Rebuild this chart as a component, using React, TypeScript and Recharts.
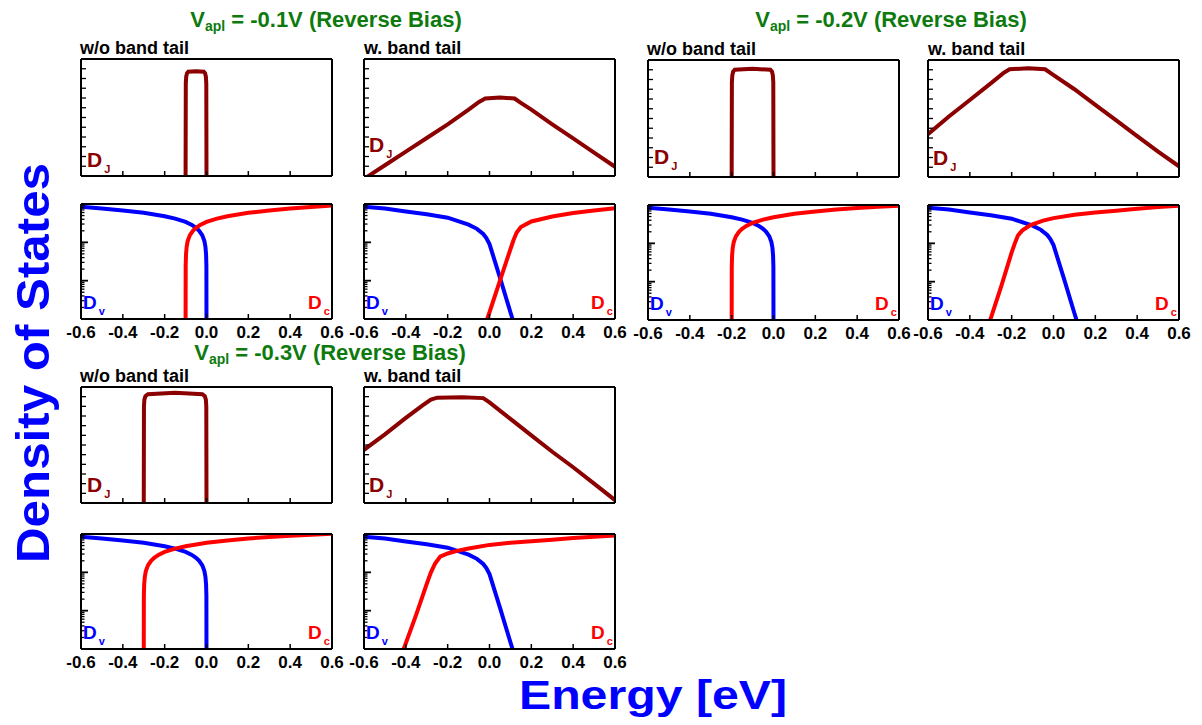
import React from "react";
import { LineChart, Line, XAxis, YAxis } from "recharts";

type Pt = [number, number];

const FONT = '"Liberation Sans", Arial, Helvetica, sans-serif';
const DJ_COLOR = "#8B0000";
const DV_COLOR = "#0000FF";
const DC_COLOR = "#FF0000";
const TITLE_GREEN = "#0E7A0E";

// x axis (energy, eV)
const energyTicks = [-0.6, -0.4, -0.2, 0, 0.2, 0.4, 0.6];
const energyLabels = ["-0.6", "-0.4", "-0.2", "0.0", "0.2", "0.4", "0.6"];
// joint DOS panels: linear, unlabelled ticks
const djTicks = [0, 10, 20, 30, 40, 50, 60, 70, 80, 90, 100, 110];
// band DOS panels: log, three decades
const dosTicks = [
  1, 2, 3, 4, 5, 6, 7, 8, 9, 10, 20, 30, 40, 50, 60, 70, 80, 90, 100, 200,
  300, 400, 500, 600, 700, 800, 900, 1000,
];
const dosDecades = [1, 10, 100, 1000];

const biasValues = ["-0.1V", "-0.2V", "-0.3V"];

// ---- joint density of states D_J (top panels) ----
const djPlain1: Pt[] = [
  [-0.1, -2], [-0.099, 95], [-0.097, 102], [-0.093, 105.5], [-0.087, 107],
  [-0.05, 107.5], [-0.013, 107], [-0.007, 105.5], [-0.003, 102], [-0.001, 95], [0, -2],
];
const djTail1: Pt[] = [
  [-0.6, -3], [-0.5, 11], [-0.4, 25], [-0.3, 39], [-0.2, 53], [-0.1, 68],
  [-0.05, 76], [-0.02, 79.5], [0.05, 80.5], [0.12, 79.5], [0.15, 75], [0.2, 68],
  [0.3, 53], [0.4, 38.5], [0.5, 24], [0.6, 9.5],
];
const djPlain2: Pt[] = [
  [-0.2, -2], [-0.199, 97], [-0.197, 104], [-0.193, 108], [-0.185, 110],
  [-0.1, 111], [-0.015, 110], [-0.007, 108], [-0.003, 104], [-0.001, 97], [0, -2],
];
const djTail2: Pt[] = [
  [-0.6, 44], [-0.5, 62], [-0.4, 79], [-0.3, 96], [-0.24, 106.5], [-0.21, 110.5],
  [-0.12, 111.5], [-0.04, 110.5], [-0.01, 106], [0.1, 90], [0.2, 74], [0.3, 58],
  [0.4, 42], [0.5, 26], [0.6, 11],
];
const djPlain3: Pt[] = [
  [-0.3, -2], [-0.299, 100], [-0.297, 107], [-0.292, 110.5], [-0.28, 112.5],
  [-0.15, 114], [-0.02, 112.5], [-0.008, 110.5], [-0.003, 107], [-0.001, 100], [0, -2],
];
const djTail3: Pt[] = [
  [-0.6, 55], [-0.5, 71], [-0.4, 88], [-0.32, 101], [-0.28, 107], [-0.25, 109],
  [-0.13, 109.5], [-0.03, 108.5], [0, 104], [0.1, 87], [0.2, 70], [0.3, 53],
  [0.4, 37], [0.5, 20], [0.6, 3],
];

// ---- valence band D_V (same in all bias cases) ----
const dvPlain: Pt[] = [
  [-0.6, 850], [-0.5, 765], [-0.4, 680], [-0.3, 590], [-0.2, 480], [-0.15, 415],
  [-0.1, 340], [-0.07, 285], [-0.05, 240], [-0.035, 200], [-0.02, 152], [-0.01, 108],
  [-0.005, 76], [-0.002, 48], [-0.0005, 24], [0, 0.5],
];
const dvTail: Pt[] = [
  [-0.6, 850], [-0.5, 760], [-0.4, 640], [-0.3, 540], [-0.2, 440], [-0.1, 290],
  [-0.06, 225], [-0.03, 165], [-0.015, 130], [0, 90], [0.05, 12], [0.1, 1.5], [0.14, 0.3],
];

// ---- conduction band D_C ----
const dcPlain1: Pt[] = [
  [-0.1, 0.5], [-0.0995, 24], [-0.098, 48], [-0.095, 76], [-0.09, 108], [-0.08, 152],
  [-0.065, 200], [-0.05, 240], [-0.03, 285], [0, 340], [0.05, 415], [0.1, 480],
  [0.2, 590], [0.3, 680], [0.4, 765], [0.5, 835], [0.6, 920],
];
const dcTail1: Pt[] = [
  [-0.03, 0.5], [0, 1.5], [0.05, 10], [0.1, 66], [0.115, 115], [0.13, 180],
  [0.15, 250], [0.2, 350], [0.3, 470], [0.4, 580], [0.5, 680], [0.6, 780],
];
const dcPlain2: Pt[] = [
  [-0.2, 0.5], [-0.1995, 24], [-0.198, 48], [-0.195, 76], [-0.19, 108], [-0.18, 152],
  [-0.165, 200], [-0.15, 240], [-0.13, 285], [-0.1, 340], [-0.05, 415], [0, 480],
  [0.1, 590], [0.2, 680], [0.3, 765], [0.4, 835], [0.5, 900], [0.6, 960],
];
const dcTail2: Pt[] = [
  [-0.33, 0.35], [-0.3, 1.1], [-0.25, 7.5], [-0.2, 58], [-0.185, 100], [-0.17, 160],
  [-0.15, 215], [-0.11, 300], [-0.05, 390], [0, 455], [0.1, 560], [0.2, 640],
  [0.3, 710], [0.4, 800], [0.5, 880], [0.6, 950],
];
const dcPlain3: Pt[] = [
  [-0.3, 0.5], [-0.2995, 24], [-0.298, 48], [-0.295, 76], [-0.29, 108], [-0.28, 152],
  [-0.265, 200], [-0.25, 240], [-0.23, 285], [-0.2, 340], [-0.15, 415], [-0.1, 480],
  [0, 590], [0.1, 680], [0.2, 765], [0.3, 835], [0.4, 900], [0.5, 960], [0.6, 1010],
];
const dcTail3: Pt[] = [
  [-0.44, 0.35], [-0.41, 1], [-0.35, 8], [-0.3, 50], [-0.28, 100], [-0.26, 170],
  [-0.236, 257], [-0.2, 310], [-0.156, 363], [-0.1, 420], [0, 520], [0.1, 590],
  [0.2, 650], [0.3, 710], [0.4, 790], [0.5, 850], [0.6, 920],
];

const toRows = (pts: Pt[]) => pts.map(([e, v]) => ({ e, v }));
const fmtEnergy = (v: number) => {
  const i = energyTicks.findIndex((t) => Math.abs(t - v) < 1e-9);
  return i >= 0 ? energyLabels[i] : String(v);
};

const frame = { stroke: "#000", strokeWidth: 2 };
const X_TICK_GAP = 8;

// inward tick mark on the bottom axis, with the label below it
function EnergyTick(props: any) {
  const { x, y, payload, labelled } = props;
  const axisY = y - X_TICK_GAP;
  return (
    <g>
      <line x1={x} x2={x} y1={axisY} y2={axisY - 5} stroke="#000" strokeWidth={1.5} />
      {labelled && (
        <text x={x} y={axisY + 19} textAnchor="middle" fill="#000" fontFamily={FONT} fontWeight={700} fontSize={17}>
          {fmtEnergy(payload.value)}
        </text>
      )}
    </g>
  );
}

// inward tick mark on the left axis
function SideTick(props: any) {
  const { x, y, payload, kind } = props;
  const major = kind === "dos" && dosDecades.includes(payload.value);
  const len = kind === "dos" ? (major ? 7 : 3.5) : 5;
  return <line x1={x} x2={x + len} y1={y} y2={y} stroke="#000" strokeWidth={major ? 1.8 : 1.3} />;
}

type Series = { data: Pt[]; color: string };

function Panel(props: {
  x: number; y: number; w: number; h: number;
  kind: "dj" | "dos"; labelled: boolean; series: Series[];
}) {
  const { x, y, w, h, kind, labelled, series } = props;
  const padX = 17;
  const padTop = 1;
  const axisH = labelled ? 26 : 1;
  const isDos = kind === "dos";
  // left/right y axes and top x axis are 1px strips that only carry the frame line
  return (
    <div style={{ position: "absolute", left: x - padX - 1, top: y - padTop - 1 }}>
      <LineChart
        width={w + 2 * padX + 2}
        height={h + padTop + 1 + axisH}
        margin={{ top: padTop, right: padX, bottom: 0, left: padX }}
      >
        <XAxis
          xAxisId="b"
          type="number"
          dataKey="e"
          domain={[-0.6, 0.6]}
          allowDataOverflow
          ticks={energyTicks}
          interval={0}
          height={axisH}
          tickSize={0}
          tickMargin={X_TICK_GAP}
          tick={(p: any) => <EnergyTick {...p} labelled={labelled} />}
          axisLine={frame}
          tickLine={false}
        />
        <XAxis
          xAxisId="t"
          orientation="top"
          type="number"
          domain={[-0.6, 0.6]}
          height={1}
          tick={false}
          tickLine={false}
          axisLine={frame}
        />
        <YAxis
          yAxisId="l"
          width={1}
          type="number"
          scale={isDos ? "log" : "linear"}
          domain={isDos ? [1, 1000] : [0, 120]}
          allowDataOverflow
          ticks={isDos ? dosTicks : djTicks}
          interval={0}
          tickSize={0}
          tickMargin={0}
          tick={(p: any) => <SideTick {...p} kind={kind} />}
          axisLine={frame}
          tickLine={false}
        />
        <YAxis
          yAxisId="r"
          orientation="right"
          width={1}
          type="number"
          domain={[0, 1]}
          tick={false}
          tickLine={false}
          axisLine={frame}
        />
        {series.map((s, i) => (
          <Line
            key={i}
            xAxisId="b"
            yAxisId="l"
            data={toRows(s.data)}
            dataKey="v"
            type="linear"
            stroke={s.color}
            strokeWidth={4}
            dot={false}
            isAnimationActive={false}
          />
        ))}
      </LineChart>
    </div>
  );
}

function Sub(props: {
  x: number; y: number; main: string; sub: string; color: string;
  size: number; subSize: number; dy: number;
}) {
  const { x, y, main, sub, color, size, subSize, dy } = props;
  return (
    <text x={x} y={y} fill={color} fontFamily={FONT} fontWeight={700} fontSize={size}>
      {main}
      <tspan fontSize={subSize} dx={2} dy={dy}>{sub}</tspan>
    </text>
  );
}

type GroupDef = {
  bias: string;
  titleX: number; titleY: number;
  left: number; right: number;
  topY: number; topH: number; botY: number; botH: number;
  djPlain: Pt[]; djTail: Pt[]; dcPlain: Pt[]; dcTail: Pt[];
  djOffL: number; djOffR: number;
};

const W = 251;

const groups: GroupDef[] = [
  { bias: biasValues[0], titleX: 326, titleY: 27, left: 81, right: 364, topY: 59, topH: 117, botY: 204, botH: 115,
    djPlain: djPlain1, djTail: djTail1, dcPlain: dcPlain1, dcTail: dcTail1, djOffL: 9, djOffR: 24 },
  { bias: biasValues[1], titleX: 891, titleY: 27, left: 648, right: 928, topY: 60, topH: 117, botY: 205, botH: 115,
    djPlain: djPlain2, djTail: djTail2, dcPlain: dcPlain2, dcTail: dcTail2, djOffL: 13, djOffR: 12 },
  { bias: biasValues[2], titleX: 330, titleY: 360, left: 81, right: 364, topY: 387, topH: 116, botY: 534, botH: 115,
    djPlain: djPlain3, djTail: djTail3, dcPlain: dcPlain3, dcTail: dcTail3, djOffL: 11, djOffR: 11 },
];

export default function App() {
  return (
    <div style={{ position: "absolute", left: 0, top: 0, width: 1202, height: 725, background: "#fff", fontFamily: FONT }}>
      {groups.map((g, gi) => (
        <React.Fragment key={gi}>
          <Panel x={g.left} y={g.topY} w={W} h={g.topH} kind="dj" labelled={false}
            series={[{ data: g.djPlain, color: DJ_COLOR }]} />
          <Panel x={g.right} y={g.topY} w={W} h={g.topH} kind="dj" labelled={false}
            series={[{ data: g.djTail, color: DJ_COLOR }]} />
          <Panel x={g.left} y={g.botY} w={W} h={g.botH} kind="dos" labelled
            series={[{ data: dvPlain, color: DV_COLOR }, { data: g.dcPlain, color: DC_COLOR }]} />
          <Panel x={g.right} y={g.botY} w={W} h={g.botH} kind="dos" labelled
            series={[{ data: dvTail, color: DV_COLOR }, { data: g.dcTail, color: DC_COLOR }]} />
        </React.Fragment>
      ))}
      <svg width={1202} height={725} style={{ position: "absolute", left: 0, top: 0, pointerEvents: "none" }}>
        {groups.map((g, gi) => {
          const topBottom = g.topY + g.topH;
          const botBottom = g.botY + g.botH;
          return (
            <g key={gi}>
              <text x={g.titleX} y={g.titleY} textAnchor="middle" fill={TITLE_GREEN} fontFamily={FONT} fontWeight={700} fontSize={22}>
                V<tspan fontSize={14} dy={4}>apl</tspan>
                <tspan dy={-4}>{` = ${g.bias} (Reverse Bias)`}</tspan>
              </text>
              <text x={g.left - 1} y={g.topY - 5} fill="#000" fontFamily={FONT} fontWeight={700} fontSize={18}>w/o band tail</text>
              <text x={g.right} y={g.topY - 5} fill="#000" fontFamily={FONT} fontWeight={700} fontSize={18}>w. band tail</text>
              <Sub x={g.left + 6} y={topBottom - g.djOffL} main="D" sub="J" color={DJ_COLOR} size={21} subSize={11} dy={6} />
              <Sub x={g.right + 5} y={topBottom - g.djOffR} main="D" sub="J" color={DJ_COLOR} size={21} subSize={11} dy={6} />
              <Sub x={g.left + 2} y={botBottom - 10} main="D" sub="v" color={DV_COLOR} size={19} subSize={11} dy={6} />
              <Sub x={g.right + 2} y={botBottom - 10} main="D" sub="v" color={DV_COLOR} size={19} subSize={11} dy={6} />
              <Sub x={g.left + W - 24} y={botBottom - 10} main="D" sub="c" color={DC_COLOR} size={19} subSize={11} dy={6} />
              <Sub x={g.right + W - 24} y={botBottom - 10} main="D" sub="c" color={DC_COLOR} size={19} subSize={11} dy={6} />
            </g>
          );
        })}
        <text x={0} y={0} transform="translate(49,363) rotate(-90)" textAnchor="middle" fill="#0000FF"
          fontFamily={FONT} fontWeight={700} fontSize={47} textLength={400} lengthAdjust="spacingAndGlyphs">
          Density of States
        </text>
        <text x={653} y={709} textAnchor="middle" fill="#0000FF" fontFamily={FONT} fontWeight={700}
          fontSize={40} textLength={268} lengthAdjust="spacingAndGlyphs">
          Energy [eV]
        </text>
      </svg>
    </div>
  );
}
